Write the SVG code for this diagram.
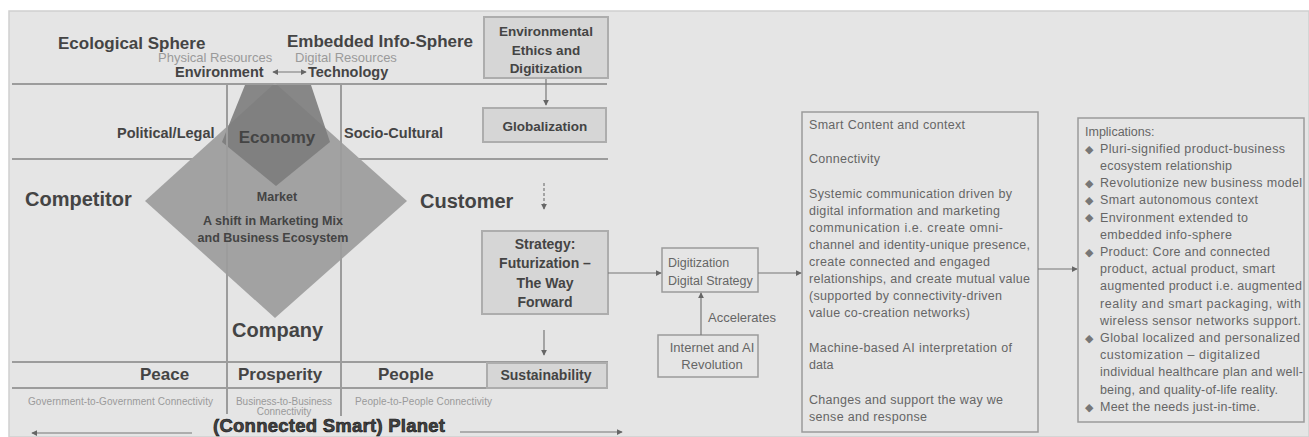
<svg xmlns="http://www.w3.org/2000/svg" width="1309" height="437" viewBox="0 0 1309 437">
<style>
.b{font-family:"Liberation Sans",Arial,sans-serif;font-weight:bold;fill:#444}
.r{font-family:"Liberation Sans",Arial,sans-serif;fill:#666}
.s{font-family:"Liberation Sans",Arial,sans-serif;fill:#9a9a9a}
.ln{stroke:#9c9c9c;stroke-width:2;fill:none}
.box{fill:#d6d6d6;stroke:#adadad;stroke-width:2}
.tb{fill:none;stroke:#9a9a9a;stroke-width:1.5}
.c{stroke:#777;stroke-width:1.2;fill:none}
.bul{font-family:"DejaVu Sans",sans-serif;fill:#777;font-size:11px}
</style>
<defs>
<marker id="ah" viewBox="0 0 8 8" refX="7" refY="4" markerWidth="6" markerHeight="6" orient="auto-start-reverse" markerUnits="userSpaceOnUse"><path d="M0,0 L8,4 L0,8 z" fill="#666"/></marker>
</defs>
<rect x="0" y="0" width="1309" height="437" fill="#ffffff"/>
<rect x="9" y="11" width="1300" height="426" fill="#e5e5e5" stroke="#cfcfcf" stroke-width="1.5"/>
<g id="grid">
<line class="ln" x1="12" y1="84" x2="607" y2="84"/>
<line class="ln" x1="12" y1="159" x2="608" y2="159"/>
<line class="ln" x1="12" y1="362" x2="608" y2="362"/>
<line class="ln" x1="12" y1="388" x2="608" y2="388"/>
</g>
<g id="market-diamond">
<polygon points="275,83 407,201 275,318 145,201" fill="#a2a2a2"/>
</g>
<g id="economy">
<polygon points="245,85 311,85 330,142 276,186 222,142" fill="#7c7c7c" fill-opacity="0.9"/>
<text class="b" x="277" y="143" font-size="17" text-anchor="middle" fill="#3a3a3a">Economy</text>
</g>
<g id="grid-v">
<line class="ln" x1="227" y1="84" x2="227" y2="414"/>
<line class="ln" x1="341" y1="84" x2="341" y2="416"/>
</g>
<g id="spheres">
<text class="b" x="58" y="49" font-size="17">Ecological Sphere</text>
<text class="b" x="287" y="47" font-size="17">Embedded Info-Sphere</text>
<text class="s" x="158" y="62" font-size="13">Physical Resources</text>
<text class="s" x="295" y="62" font-size="13">Digital Resources</text>
<text class="b" x="175" y="77" font-size="14.5">Environment</text>
<text class="b" x="308" y="77" font-size="14.5">Technology</text>
</g>
<g id="political"><text class="b" x="117" y="138" font-size="14.5">Political/Legal</text></g>
<g id="socio"><text class="b" x="344" y="138" font-size="14.5">Socio-Cultural</text></g>
<g id="competitor"><text class="b" x="25" y="206" font-size="20">Competitor</text></g>
<g id="customer"><text class="b" x="420" y="208" font-size="20">Customer</text></g>
<g id="market">
<text class="b" x="277" y="201" font-size="12.5" text-anchor="middle" fill="#3a3a3a">Market</text>
<text class="b" x="273" y="225" font-size="12.5" text-anchor="middle" fill="#3a3a3a">A shift in Marketing Mix</text>
<text class="b" x="273" y="242" font-size="12.5" text-anchor="middle" fill="#3a3a3a">and Business Ecosystem</text>
</g>
<g id="company"><text class="b" x="232" y="337" font-size="20">Company</text></g>
<g id="ppp">
<text class="b" x="140" y="380" font-size="17">Peace</text>
<text class="b" x="238" y="380" font-size="17">Prosperity</text>
<text class="b" x="378" y="380" font-size="17">People</text>
<text class="s" x="28" y="405" font-size="10" textLength="185">Government-to-Government Connectivity</text>
<text class="s" x="284" y="405" font-size="10" text-anchor="middle">Business-to-Business</text>
<text class="s" x="284" y="415" font-size="10" text-anchor="middle">Connectivity</text>
<text class="s" x="355" y="405" font-size="10" textLength="137">People-to-People Connectivity</text>
</g>
<g id="planet">
<text class="b" x="213" y="432" font-size="18.5" fill="#111" stroke="#111" stroke-width="0.6" textLength="232">(Connected Smart) Planet</text>
</g>
<g id="env-ethics">
<rect class="box" x="484" y="17" width="124" height="61"/>
<text class="b" x="546" y="36" font-size="13.5" text-anchor="middle">Environmental</text>
<text class="b" x="546" y="55" font-size="13.5" text-anchor="middle">Ethics and</text>
<text class="b" x="546" y="73" font-size="13.5" text-anchor="middle">Digitization</text>
</g>
<g id="globalization">
<rect class="box" x="483" y="108" width="123" height="34"/>
<text class="b" x="545" y="131" font-size="13.5" text-anchor="middle">Globalization</text>
</g>
<g id="strategy">
<rect class="box" x="482" y="231" width="126" height="83"/>
<text class="b" x="545" y="249" font-size="14" text-anchor="middle">Strategy:</text>
<text class="b" x="545" y="268" font-size="14" text-anchor="middle">Futurization –</text>
<text class="b" x="545" y="288" font-size="14" text-anchor="middle">The Way</text>
<text class="b" x="545" y="307" font-size="14" text-anchor="middle">Forward</text>
</g>
<g id="sustainability">
<rect class="box" x="487" y="363" width="120" height="25"/>
<text class="b" x="546" y="380" font-size="14" text-anchor="middle">Sustainability</text>
</g>
<g id="digitization">
<rect class="tb" x="662" y="248" width="96" height="44"/>
<text class="r" x="668" y="267" font-size="12.5">Digitization</text>
<text class="r" x="668" y="285" font-size="12.5">Digital Strategy</text>
</g>
<g id="internet">
<rect class="tb" x="658" y="335" width="100" height="42"/>
<text class="r" x="712" y="352" font-size="13" text-anchor="middle">Internet and AI</text>
<text class="r" x="712" y="369" font-size="13" text-anchor="middle">Revolution</text>
</g>
<g id="content">
<rect class="tb" x="802" y="112" width="236" height="320"/>
<text class="r" font-size="12.5" lengthAdjust="spacingAndGlyphs">
<tspan x="809" y="129" textLength="156">Smart Content and context</tspan>
<tspan x="809" y="163" textLength="71">Connectivity</tspan>
<tspan x="809" y="198" textLength="203">Systemic communication driven by</tspan>
<tspan x="809" y="215" textLength="191">digital information and marketing</tspan>
<tspan x="809" y="232" textLength="194">communication i.e. create omni-</tspan>
<tspan x="809" y="249" textLength="221">channel and identity-unique presence,</tspan>
<tspan x="809" y="266" textLength="181">create connected and engaged</tspan>
<tspan x="809" y="283" textLength="221">relationships, and create mutual value</tspan>
<tspan x="809" y="300" textLength="193">(supported by connectivity-driven</tspan>
<tspan x="809" y="317" textLength="161">value co-creation networks)</tspan>
<tspan x="809" y="352" textLength="203">Machine-based AI interpretation of</tspan>
<tspan x="809" y="369">data</tspan>
<tspan x="809" y="404" textLength="194">Changes and support the way we</tspan>
<tspan x="809" y="421" textLength="118">sense and response</tspan>
</text>
</g>
<g id="implications">
<rect class="tb" x="1078" y="118" width="226" height="304"/>
<text class="r" x="1085" y="135.5" font-size="12.5">Implications:</text>
<text class="bul">
<tspan x="1085" y="152.5">◆</tspan>
<tspan x="1085" y="186.9">◆</tspan>
<tspan x="1085" y="204.1">◆</tspan>
<tspan x="1085" y="221.3">◆</tspan>
<tspan x="1085" y="255.7">◆</tspan>
<tspan x="1085" y="341.7">◆</tspan>
<tspan x="1085" y="410.5">◆</tspan>
</text>
<text class="r" font-size="12.5" lengthAdjust="spacingAndGlyphs">
<tspan x="1100" y="152.7" textLength="185">Pluri-signified product-business</tspan>
<tspan x="1100" y="169.9" textLength="132">ecosystem relationship</tspan>
<tspan x="1100" y="187.1" textLength="202">Revolutionize new business model</tspan>
<tspan x="1100" y="204.3" textLength="158">Smart autonomous context</tspan>
<tspan x="1100" y="221.5" textLength="148">Environment extended to</tspan>
<tspan x="1100" y="238.7" textLength="132">embedded info-sphere</tspan>
<tspan x="1100" y="255.9" textLength="170">Product: Core and connected</tspan>
<tspan x="1100" y="273.1" textLength="175">product, actual product, smart</tspan>
<tspan x="1100" y="290.3" textLength="202">augmented product i.e. augmented</tspan>
<tspan x="1100" y="307.5" textLength="201">reality and smart packaging, with</tspan>
<tspan x="1100" y="324.7" textLength="201">wireless sensor networks support.</tspan>
<tspan x="1100" y="341.9" textLength="200">Global localized and personalized</tspan>
<tspan x="1100" y="359.1" textLength="160">customization – digitalized</tspan>
<tspan x="1100" y="376.3" textLength="203">individual healthcare plan and well-</tspan>
<tspan x="1100" y="393.5" textLength="178">being, and quality-of-life reality.</tspan>
<tspan x="1100" y="410.7" textLength="160">Meet the needs just-in-time.</tspan>
</text>
</g>
<g id="connectors">
<line class="c" x1="273" y1="72" x2="306" y2="72" marker-start="url(#ah)" marker-end="url(#ah)"/>
<line class="c" x1="546" y1="79" x2="546" y2="105" marker-end="url(#ah)"/>
<line class="c" x1="544" y1="183" x2="544" y2="209" stroke-dasharray="3,2" marker-end="url(#ah)"/>
<line class="c" x1="544" y1="330" x2="544" y2="355" marker-end="url(#ah)"/>
<line class="c" x1="608" y1="273" x2="661" y2="273" marker-end="url(#ah)"/>
<line class="c" x1="701" y1="335" x2="701" y2="293" marker-end="url(#ah)"/>
<text class="r" x="708" y="322" font-size="13" fill="#555">Accelerates</text>
<line class="c" x1="758" y1="273" x2="801" y2="273" marker-end="url(#ah)"/>
<line class="c" x1="1038" y1="269" x2="1077" y2="269" marker-end="url(#ah)"/>
<line class="c" x1="192" y1="433" x2="32" y2="433" marker-end="url(#ah)"/>
<line class="c" x1="460" y1="432" x2="622" y2="432" marker-end="url(#ah)"/>
</g>
</svg>
